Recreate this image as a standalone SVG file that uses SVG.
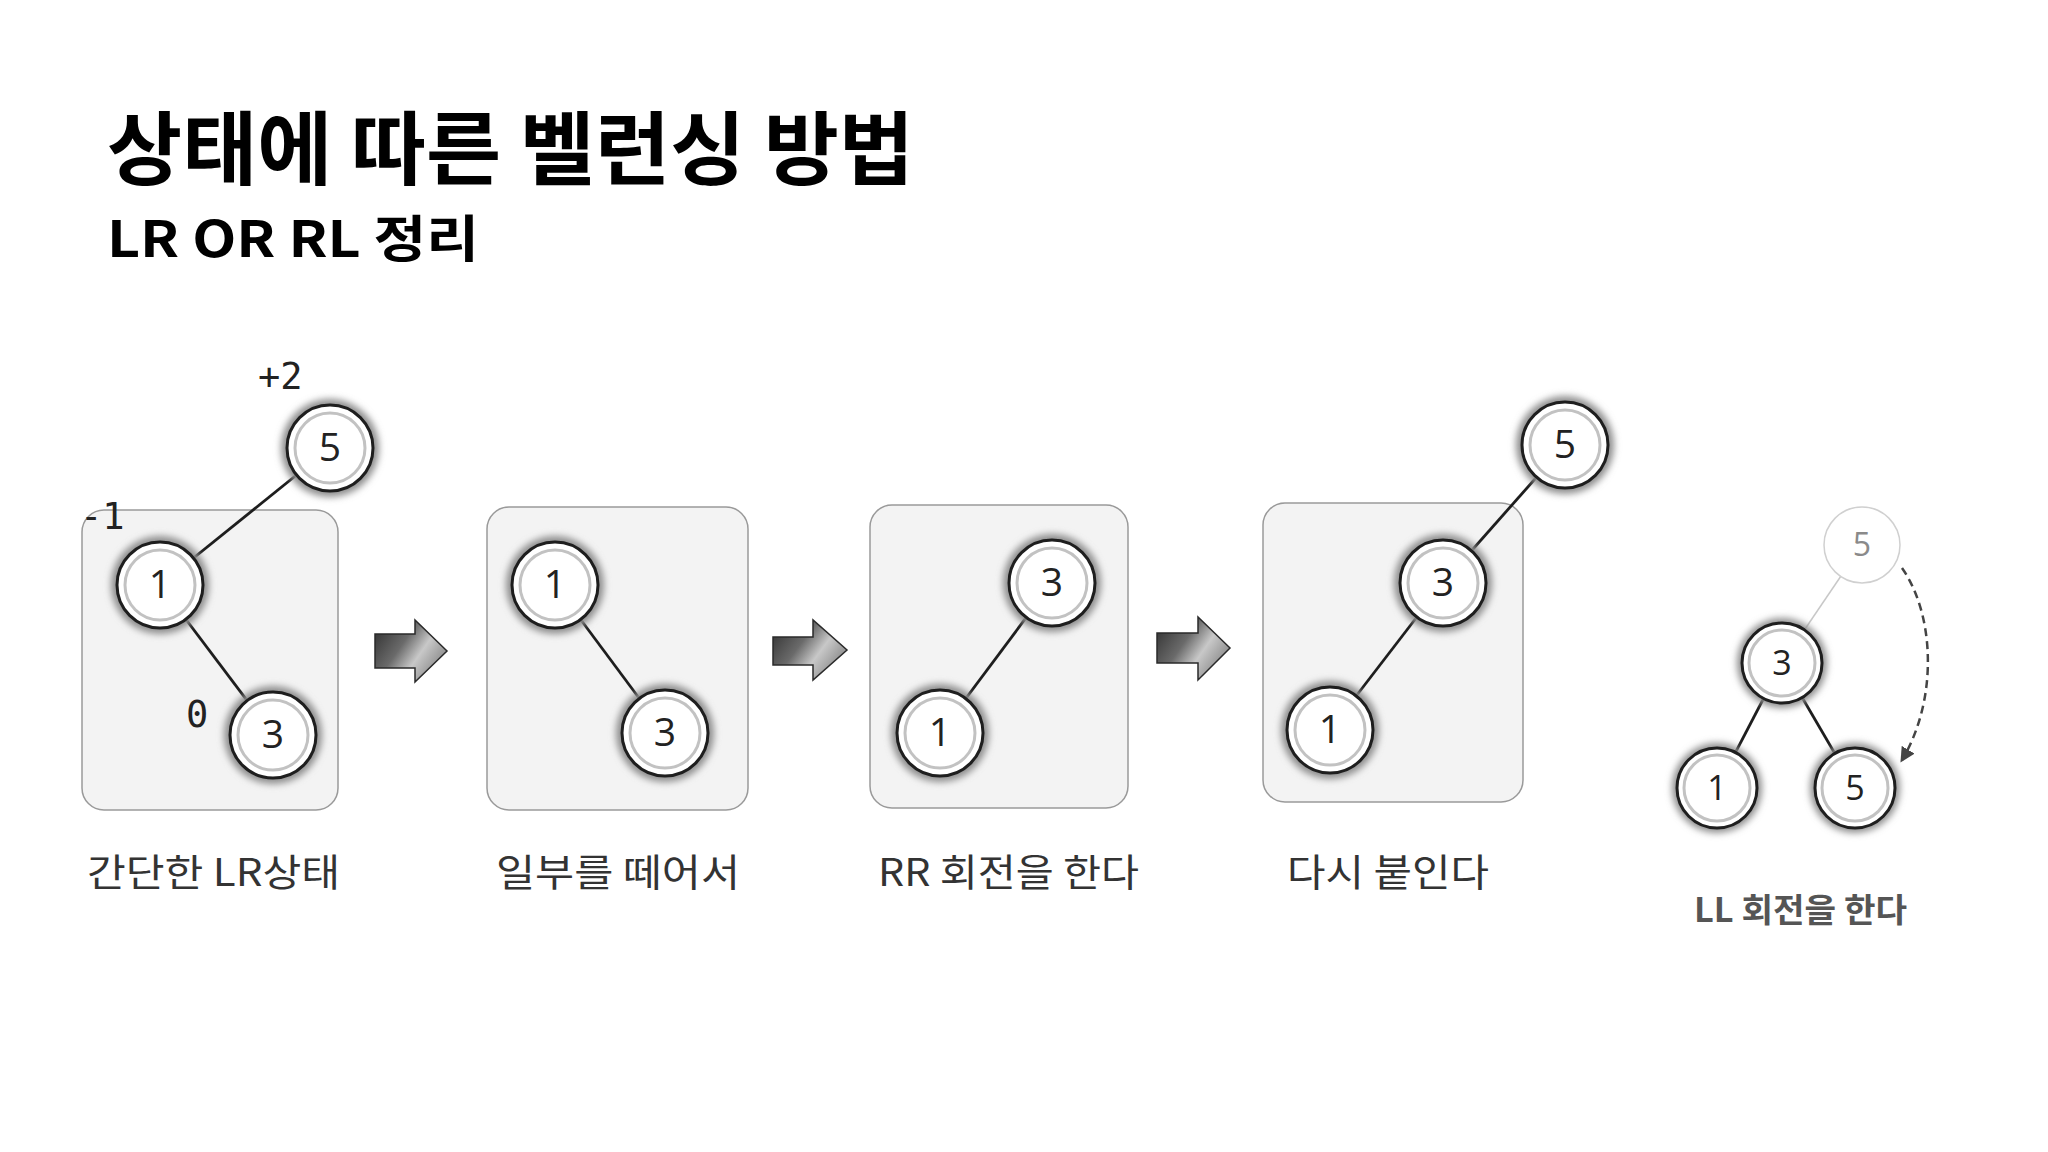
<svg xmlns="http://www.w3.org/2000/svg" width="2048" height="1152" viewBox="0 0 2048 1152">
<defs>
<filter id="blur" x="-30%" y="-30%" width="160%" height="160%"><feGaussianBlur stdDeviation="3.5"/></filter>
<linearGradient id="ag" x1="0" y1="0" x2="1" y2="0.6">
<stop offset="0" stop-color="#2a2a2a"/><stop offset="0.45" stop-color="#6a6a6a"/><stop offset="0.7" stop-color="#c8c8c8"/><stop offset="1" stop-color="#8a8a8a"/>
</linearGradient>
<marker id="ah" viewBox="0 0 10 10" refX="8" refY="5" markerWidth="15" markerHeight="15" orient="auto" markerUnits="userSpaceOnUse">
<path d="M0,0 L10,5 L0,10 Z" fill="#444"/>
</marker>
<style>
.title{font-family:"Noto Sans CJK KR","Liberation Sans",sans-serif;font-weight:700;fill:#000}
.box{fill:#f3f3f3;stroke:#9a9a9a;stroke-width:1.5}
.halo{fill:#8e8e8e;filter:url(#blur)}
.outer{fill:#fff;stroke:#1e1e1e;stroke-width:3}
.inner{fill:none;stroke:#c2c2c2;stroke-width:3}
.num{font-family:"Open Sans","DejaVu Sans",sans-serif;font-size:39px;fill:#222;text-anchor:middle}
.bal{font-family:"DejaVu Sans Mono","Liberation Mono",monospace;font-size:37px;fill:#222}
.edge{stroke:#1e1e1e;stroke-width:2.8;fill:none}
.lbl{font-family:"Noto Sans CJK KR","Liberation Sans",sans-serif;font-size:38px;fill:#333}
.arrow{fill:url(#ag);stroke:#2a2a2a;stroke-width:1.5}
</style>
</defs>
<rect width="2048" height="1152" fill="#fff"/>
<text class="title" x="107" y="178" font-size="80" textLength="807" lengthAdjust="spacingAndGlyphs">상태에 따른 벨런싱 방법</text>
<text class="title" x="107" y="257" font-size="50" textLength="372" lengthAdjust="spacingAndGlyphs">LR OR RL 정리</text>

<g id="boxes">
<rect id="box1" class="box" x="82" y="510" width="256" height="300" rx="22"/>
<rect id="box2" class="box" x="487" y="507" width="261" height="303" rx="22"/>
<rect id="box3" class="box" x="870" y="505" width="258" height="303" rx="22"/>
<rect id="box4" class="box" x="1263" y="503" width="260" height="299" rx="22"/>
</g>

<g id="connectors">
<line class="edge" x1="330" y1="448" x2="160" y2="585"/>
<line class="edge" x1="160" y1="585" x2="273" y2="735"/>
<line class="edge" x1="555" y1="585" x2="665" y2="733"/>
<line class="edge" x1="1052" y1="583" x2="940" y2="733"/>
<line class="edge" x1="1565" y1="445" x2="1443" y2="583"/>
<line class="edge" x1="1443" y1="583" x2="1330" y2="730"/>
<line x1="1862" y1="545" x2="1782" y2="663" stroke="#c8c8c8" stroke-width="1.5"/>
<line class="edge" x1="1782" y1="663" x2="1717" y2="788"/>
<line class="edge" x1="1782" y1="663" x2="1855" y2="788"/>
<path d="M1902,568 C1935,615 1938,700 1902,760" fill="none" stroke="#444" stroke-width="2.5" stroke-dasharray="8 5" marker-end="url(#ah)"/>
<path class="arrow" d="M375,634 H415 V620 L447,651 L415,682 V668 H375 Z"/>
<path class="arrow" d="M773,637 H813 V620 L847,650 L813,680 V665 H773 Z"/>
<path class="arrow" d="M1157,633 H1198 V617 L1230,648 L1198,680 V663 H1157 Z"/>
</g>

<g id="n1-5" transform="translate(330,448)"><circle class="halo" r="49"/><circle class="outer" r="43"/><circle class="inner" r="35"/><text class="num" y="13">5</text></g>
<g id="n1-1" transform="translate(160,585)"><circle class="halo" r="49"/><circle class="outer" r="43"/><circle class="inner" r="35"/><text class="num" y="13">1</text></g>
<g id="n1-3" transform="translate(273,735)"><circle class="halo" r="49"/><circle class="outer" r="43"/><circle class="inner" r="35"/><text class="num" y="13">3</text></g>
<g id="n2-1" transform="translate(555,585)"><circle class="halo" r="49"/><circle class="outer" r="43"/><circle class="inner" r="35"/><text class="num" y="13">1</text></g>
<g id="n2-3" transform="translate(665,733)"><circle class="halo" r="49"/><circle class="outer" r="43"/><circle class="inner" r="35"/><text class="num" y="13">3</text></g>
<g id="n3-3" transform="translate(1052,583)"><circle class="halo" r="49"/><circle class="outer" r="43"/><circle class="inner" r="35"/><text class="num" y="13">3</text></g>
<g id="n3-1" transform="translate(940,733)"><circle class="halo" r="49"/><circle class="outer" r="43"/><circle class="inner" r="35"/><text class="num" y="13">1</text></g>
<g id="n4-5" transform="translate(1565,445)"><circle class="halo" r="49"/><circle class="outer" r="43"/><circle class="inner" r="35"/><text class="num" y="13">5</text></g>
<g id="n4-3" transform="translate(1443,583)"><circle class="halo" r="49"/><circle class="outer" r="43"/><circle class="inner" r="35"/><text class="num" y="13">3</text></g>
<g id="n4-1" transform="translate(1330,730)"><circle class="halo" r="49"/><circle class="outer" r="43"/><circle class="inner" r="35"/><text class="num" y="13">1</text></g>
<g id="n5-5old" transform="translate(1862,545)"><circle r="38" fill="#fff" stroke="#d0d0d0" stroke-width="1.5"/><text class="num" y="11" style="font-size:32px;fill:#8a8a8a">5</text></g>
<g id="n5-3" transform="translate(1782,663)"><circle class="halo" r="45"/><circle class="outer" r="40"/><circle class="inner" r="33"/><text class="num" y="12" style="font-size:34px">3</text></g>
<g id="n5-1" transform="translate(1717,788)"><circle class="halo" r="45"/><circle class="outer" r="40"/><circle class="inner" r="33"/><text class="num" y="12" style="font-size:34px">1</text></g>
<g id="n5-5" transform="translate(1855,788)"><circle class="halo" r="45"/><circle class="outer" r="40"/><circle class="inner" r="33"/><text class="num" y="12" style="font-size:34px">5</text></g>

<g id="balance">
<text class="bal" x="258" y="389">+2</text>
<text class="bal" x="80" y="529">-1</text>
<text class="bal" x="186" y="727">0</text>
</g>

<g id="labels">
<text class="lbl" x="87" y="886" textLength="253" lengthAdjust="spacingAndGlyphs">간단한  LR상태</text>
<text class="lbl" x="496" y="886" textLength="244" lengthAdjust="spacingAndGlyphs">일부를  떼어서</text>
<text class="lbl" x="878" y="886" textLength="261" lengthAdjust="spacingAndGlyphs">RR 회전을  한다</text>
<text class="lbl" x="1287" y="886" textLength="202" lengthAdjust="spacingAndGlyphs">다시 붙인다</text>
<text class="lbl" x="1694" y="922" textLength="213" lengthAdjust="spacingAndGlyphs" style="font-size:33px;font-weight:700;fill:#555">LL 회전을 한다</text>
</g>
</svg>
